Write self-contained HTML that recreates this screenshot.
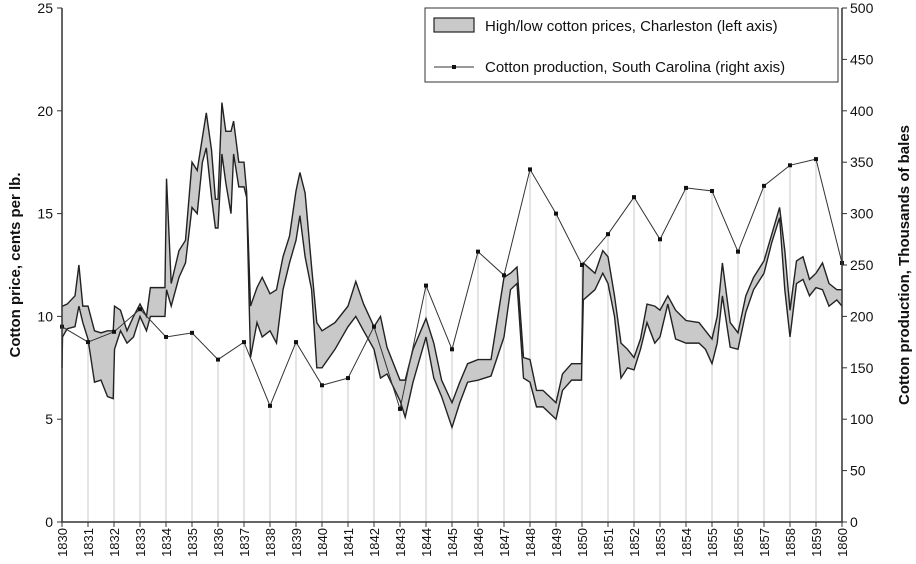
<!DOCTYPE html>
<html><head><meta charset="utf-8"><style>
body{margin:0;background:#fff;}
svg{display:block;font-family:"Liberation Sans",sans-serif;}
</style></head><body>
<svg id="chart" width="916" height="564"></svg>
<script>
const years=[1830,1831,1832,1833,1834,1835,1836,1837,1838,1839,1840,1841,1842,1843,1844,1845,1846,1847,1848,1849,1850,1851,1852,1853,1854,1855,1856,1857,1858,1859,1860];
const production=[190,175,185,207,180,184,158,175,113,175,133,140,190,110,230,168,263,240,343,300,250,280,316,275,325,322,263,327,347,353,252];
const priceTime=[1830,1830.02,1830.2,1830.5,1830.65,1830.8,1831,1831.25,1831.5,1831.75,1831.97,1832.02,1832.25,1832.5,1832.75,1833,1833.25,1833.4,1833.75,1833.96,1834.02,1834.2,1834.5,1834.75,1835,1835.2,1835.4,1835.55,1835.75,1835.9,1836,1836.15,1836.3,1836.5,1836.6,1836.8,1837,1837.1,1837.25,1837.5,1837.7,1838,1838.25,1838.5,1838.75,1839,1839.15,1839.35,1839.6,1839.8,1840,1840.5,1841,1841.3,1841.6,1842,1842.25,1842.5,1843,1843.2,1843.5,1844,1844.3,1844.6,1845,1845.3,1845.6,1846,1846.5,1847,1847.25,1847.5,1847.75,1848,1848.25,1848.5,1849,1849.25,1849.6,1849.98,1850.05,1850.5,1850.8,1851,1851.25,1851.5,1851.75,1852,1852.25,1852.5,1852.8,1853,1853.3,1853.6,1854,1854.5,1854.75,1855,1855.2,1855.4,1855.7,1856,1856.3,1856.6,1857,1857.3,1857.6,1857.8,1858,1858.25,1858.5,1858.75,1859,1859.25,1859.5,1859.8,1860];
const priceHigh=[10.5,10.5,10.6,11,12.5,10.5,10.5,9.3,9.2,9.3,9.3,10.5,10.3,9.3,10,10.6,10,11.4,11.4,11.4,16.7,11.6,13.2,13.7,17.5,17.1,18.7,19.9,18.1,15.7,15.7,20.4,19,19,19.5,17.5,17.5,16.1,10.5,11.4,11.9,11.1,11.3,12.9,13.9,16.1,17,16,12.4,9.7,9.3,9.7,10.5,11.7,10.6,9.5,10,8.5,6.9,6.9,8.4,9.9,8.7,6.9,5.8,6.8,7.7,7.9,7.9,11.9,12.1,12.4,8,7.9,6.4,6.4,5.8,7.2,7.7,7.7,12.6,12.1,13.2,12.9,11,8.7,8.4,8,8.9,10.6,10.5,10.3,11,10.3,9.8,9.7,9.3,8.9,10,12.6,9.7,9.2,11,11.9,12.7,14,15.3,13.2,10.3,12.7,12.9,11.8,12.1,12.6,11.6,11.3,11.3];
const priceLow=[7.5,9,9.4,9.5,10.5,9.7,8.9,6.8,6.9,6.1,6,8.4,9.3,8.7,9,10,9.3,10,10,10,11.3,10.5,11.9,12.6,15.3,15,17.5,18.2,15.8,14.3,14.3,17.9,16.5,15,17.9,16.3,16.3,15.8,8,9.7,9,9.3,8.7,11.3,12.6,13.7,14.9,12.9,11.3,7.5,7.5,8.4,9.5,10,9.3,8.4,7,7.2,5.9,5.1,6.8,9,7,6.1,4.6,5.8,6.8,6.9,7.1,9,11.3,11.6,7,6.8,5.6,5.6,5,6.4,6.9,6.9,10.8,11.3,12.1,11.6,10,7,7.5,7.4,8.4,9.7,8.7,9,10.6,8.9,8.7,8.7,8.4,7.7,8.7,11,8.5,8.4,10.2,11.3,12.1,13.6,14.8,11.3,9,11.6,11.8,11,11.4,11.3,10.5,10.8,10.5];
const priceTicks=[0,5,10,15,20,25];
const prodTicks=[0,50,100,150,200,250,300,350,400,450,500];

const NS="http://www.w3.org/2000/svg";
const svg=document.getElementById('chart');
const X0=62,X1=842,Y0=522,Y1=8;
const xs=t=>X0+(t-1830)/30*(X1-X0);
const yL=v=>Y0-v/25*(Y0-Y1);
const yR=v=>Y0-v/500*(Y0-Y1);
function mk(tag,attrs,parent){const e=document.createElementNS(NS,tag);for(const k in attrs)e.setAttribute(k,attrs[k]);(parent||svg).appendChild(e);return e;}

// drop lines
years.forEach((y,i)=>{
  const l=mk('line',{x1:xs(y),x2:xs(y),y1:yR(production[i]),y2:Y0,stroke:'#c8c8c8','stroke-width':1});
  
  
});
// band
let d='M'+priceTime.map((t,i)=>xs(t).toFixed(1)+','+yL(priceHigh[i]).toFixed(1)).join('L');
for(let i=priceTime.length-1;i>=0;i--)d+='L'+xs(priceTime[i]).toFixed(1)+','+yL(priceLow[i]).toFixed(1);
d+='Z';
const band=mk('path',{d:d,fill:'#c9c9c9',stroke:'none'});


const hiL=mk('polyline',{points:priceTime.map((t,i)=>xs(t)+','+yL(priceHigh[i])).join(' '),fill:'none',stroke:'#222','stroke-width':1.4});


const loL=mk('polyline',{points:priceTime.map((t,i)=>xs(t)+','+yL(priceLow[i])).join(' '),fill:'none',stroke:'#222','stroke-width':1.4});


// production
const pl=mk('polyline',{points:years.map((y,i)=>xs(y)+','+yR(production[i])).join(' '),fill:'none',stroke:'#333','stroke-width':1});


years.forEach((y,i)=>{
  const p=mk('rect',{x:xs(y)-2,y:yR(production[i])-2,width:4,height:4,fill:'#111'});
  
  
});
// axes
const ax=mk('path',{d:`M${X0},${Y1}V${Y0}H${X1}V${Y1}`,fill:'none',stroke:'#333','stroke-width':1.5});


priceTicks.forEach(v=>{
  mk('line',{x1:X0-5,x2:X0,y1:yL(v),y2:yL(v),stroke:'#333'});
  const t=mk('text',{x:X0-9,y:yL(v)+5,'text-anchor':'end','font-size':14,fill:'#111'});
  t.textContent=v;
  
  
});
prodTicks.forEach(v=>{
  mk('line',{x1:X1,x2:X1+5,y1:yR(v),y2:yR(v),stroke:'#333'});
  const t=mk('text',{x:X1+8,y:yR(v)+5,'font-size':14,fill:'#111'});
  t.textContent=v;
  
  
});
years.forEach(y=>{
  mk('line',{x1:xs(y),x2:xs(y),y1:Y0,y2:Y0+5,stroke:'#333'});
  const t=mk('text',{x:0,y:0,'text-anchor':'end','font-size':13,fill:'#111',transform:`translate(${xs(y)+5},${Y0+6}) rotate(-90)`});
  t.textContent=y;
  
  
});
const yt=mk('text',{transform:'translate(20,265) rotate(-90)','text-anchor':'middle','font-size':15,'font-weight':'bold',fill:'#111'});
yt.textContent='Cotton price, cents per lb.';


const yt2=mk('text',{transform:'translate(909,265) rotate(-90)','text-anchor':'middle','font-size':15,'font-weight':'bold',fill:'#111'});
yt2.textContent='Cotton production, Thousands of bales';


// legend
const lg=mk('g',{});


mk('rect',{x:425,y:8,width:413,height:74,fill:'#fff',stroke:'#333','stroke-width':1},lg);
const e1=mk('g',{},lg);


mk('rect',{x:434,y:18,width:40,height:14,fill:'#c9c9c9',stroke:'#222','stroke-width':1.2},e1);
const lt1=mk('text',{x:485,y:31,'font-size':15,fill:'#111'},e1);lt1.textContent='High/low cotton prices, Charleston (left axis)';
const e2=mk('g',{},lg);


mk('line',{x1:434,x2:474,y1:67,y2:67,stroke:'#333'},e2);
mk('rect',{x:452,y:65,width:4,height:4,fill:'#111'},e2);
const lt2=mk('text',{x:485,y:72,'font-size':15,fill:'#111'},e2);lt2.textContent='Cotton production, South Carolina (right axis)';
</script>
</body></html>
